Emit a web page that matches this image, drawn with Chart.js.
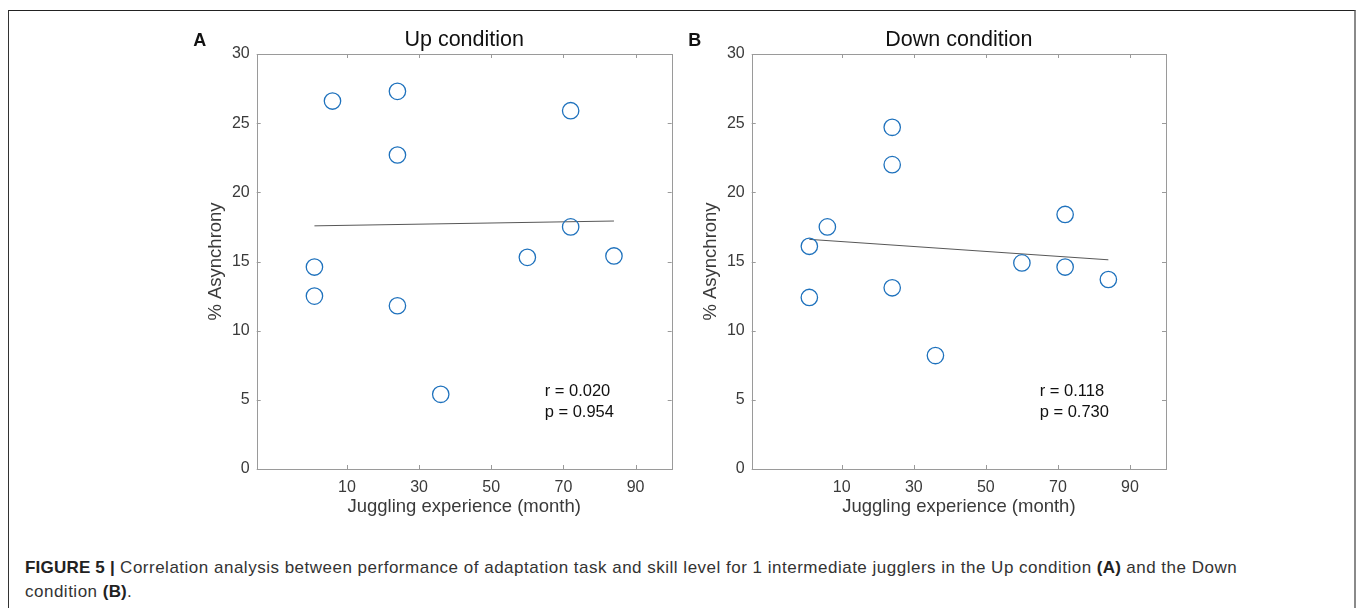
<!DOCTYPE html>
<html>
<head>
<meta charset="utf-8">
<script src="https://cdn.jsdelivr.net/npm/chart.js@4.4.1/dist/chart.umd.min.js"></script>
<style>
  html, body { margin: 0; padding: 0; background: #fff; }
  body { width: 1358px; height: 608px; position: relative; overflow: hidden; font-family: "Liberation Sans", Arial, sans-serif; }
  #frame { position: absolute; left: 8px; top: 10px; width: 1345px; height: 620px;
           border-top: 1px solid #222; border-left: 1px solid #333; border-right: 2px solid #8a8a8a; }
  .panel { position: absolute; top: 0; width: 580px; height: 530px; }
  #panelA { left: 120px; }
  #panelB { left: 670px; }
  #caption { position: absolute; left: 25px; top: 556px; font-size: 17px; letter-spacing: 0.5px; line-height: 23.5px; color: #333; white-space: nowrap; }
  #caption b { color: #222; letter-spacing: 0.2px; }
</style>
</head>
<body>
<div id="frame"></div>
<div class="panel" id="panelA"><canvas id="chartA"></canvas></div>
<div class="panel" id="panelB"><canvas id="chartB"></canvas></div>
<div id="caption"><b>FIGURE 5 |</b> Correlation analysis between performance of adaptation task and skill level for 1 intermediate jugglers in the Up condition <b>(A)</b> and the Down<br>condition <b>(B)</b>.</div>

<script>
'use strict';

// juggling experience in months (same subjects in both panels)
const experienceMonths = [1, 1, 6, 24, 24, 24, 36, 60, 72, 72, 84];
// % asynchrony, Up condition
const upAsynchrony = [14.6, 12.5, 26.6, 27.3, 22.7, 11.8, 5.4, 15.3, 25.9, 17.5, 15.4];
// % asynchrony, Down condition
const downAsynchrony = [16.1, 12.4, 17.5, 24.7, 22.0, 13.1, 8.2, 14.9, 18.4, 14.6, 13.7];

const xTicks = [10, 30, 50, 70, 90];
const yTicks = [0, 5, 10, 15, 20, 25, 30];

const upStats = ['r = 0.020', 'p = 0.954'];
const downStats = ['r = 0.118', 'p = 0.730'];

const AXIS_GRAY = '#9a9a9a';
const TEXT = '#3a3a3a';
const FONT = '"Liberation Sans", Arial, sans-serif';

function leastSquares(xs, ys) {
    const n = xs.length;
    const mx = xs.reduce((a, b) => a + b, 0) / n;
    const my = ys.reduce((a, b) => a + b, 0) / n;
    let sxy = 0, sxx = 0;
    for (let i = 0; i < n; i++) {
        sxy += (xs[i] - mx) * (ys[i] - my);
        sxx += (xs[i] - mx) * (xs[i] - mx);
    }
    const slope = sxy / sxx;
    return x => my + slope * (x - mx);
}

// box, inward ticks and the text around each panel
const decorPlugin = {
    id: 'decor',
    afterDraw(chart, args, opts) {
        const ctx = chart.ctx;
        const {left, right, top, bottom} = chart.chartArea;
        const xs = chart.scales.x, ys = chart.scales.y;
        ctx.save();
        ctx.strokeStyle = AXIS_GRAY;
        ctx.lineWidth = 1;
        ctx.strokeRect(Math.round(left) + 0.5, Math.round(top) + 0.5,
            Math.round(right - left), Math.round(bottom - top));
        ctx.beginPath();
        const t = 4;
        xTicks.forEach(v => {
            const px = Math.round(xs.getPixelForValue(v)) + 0.5;
            ctx.moveTo(px, bottom); ctx.lineTo(px, bottom - t);
            ctx.moveTo(px, top); ctx.lineTo(px, top + t);
        });
        yTicks.forEach(v => {
            const py = Math.round(ys.getPixelForValue(v)) + 0.5;
            ctx.moveTo(left, py); ctx.lineTo(left + t, py);
            ctx.moveTo(right, py); ctx.lineTo(right - t, py);
        });
        ctx.stroke();

        ctx.fillStyle = '#111';
        ctx.textBaseline = 'middle';
        ctx.textAlign = 'center';
        ctx.font = 'bold 18px ' + FONT;
        ctx.fillText(opts.letter, left - 57, 41);
        ctx.font = '21.5px ' + FONT;
        ctx.fillText(opts.title, (left + right) / 2, 40);

        ctx.fillStyle = TEXT;
        ctx.font = '18.5px ' + FONT;
        ctx.fillText('Juggling experience (month)', (left + right) / 2, bottom + 38);
        ctx.save();
        ctx.translate(left - 41, (top + bottom) / 2);
        ctx.rotate(-Math.PI / 2);
        ctx.fillText('% Asynchrony', 0, 0);
        ctx.restore();

        ctx.fillStyle = '#111';
        ctx.textAlign = 'left';
        ctx.font = '16.5px ' + FONT;
        ctx.fillText(opts.stats[0], left + 288, 391);
        ctx.fillText(opts.stats[1], left + 288, 412);
        ctx.restore();
    }
};

function makePanel(canvasId, ys, letter, title, stats, axisLeft, padRight) {
    const fit = leastSquares(experienceMonths, ys);
    const xMin = Math.min(...experienceMonths), xMax = Math.max(...experienceMonths);
    const points = experienceMonths.map((x, i) => ({x: x, y: ys[i]}));
    return new Chart(document.getElementById(canvasId), {
        type: 'scatter',
        data: {
            datasets: [{
                data: points,
                pointStyle: 'circle',
                pointRadius: 8.2,
                pointHoverRadius: 8.2,
                borderColor: '#1f72bd',
                backgroundColor: 'rgba(0,0,0,0)',
                borderWidth: 1.3
            }, {
                type: 'line',
                data: [{x: xMin, y: fit(xMin)}, {x: xMax, y: fit(xMax)}],
                borderColor: '#444',
                borderWidth: 0.9,
                pointRadius: 0,
                fill: false
            }]
        },
        options: {
            responsive: true,
            maintainAspectRatio: false,
            animation: false,
            events: [],
            layout: {padding: {top: 54, right: padRight, left: 0, bottom: 0}},
            plugins: {
                legend: {display: false},
                tooltip: {enabled: false},
                decor: {letter: letter, title: title, stats: stats}
            },
            scales: {
                x: {
                    type: 'linear', min: -15, max: 100,
                    afterBuildTicks: s => { s.ticks = xTicks.map(v => ({value: v})); },
                    afterFit: s => { s.height = 61; },
                    grid: {display: false, drawTicks: false},
                    border: {display: false},
                    ticks: {padding: 9, color: TEXT, font: {size: 16, family: FONT}, maxRotation: 0}
                },
                y: {
                    type: 'linear', min: 0, max: 30,
                    afterBuildTicks: s => { s.ticks = yTicks.map(v => ({value: v})); },
                    afterFit: s => { s.width = axisLeft; },
                    grid: {display: false, drawTicks: false},
                    border: {display: false},
                    ticks: {padding: 7, color: TEXT, font: {size: 16, family: FONT}}
                }
            }
        },
        plugins: [decorPlugin]
    });
}

makePanel('chartA', upAsynchrony, 'A', 'Up condition', upStats, 136.7, 28.3);
makePanel('chartB', downAsynchrony, 'B', 'Down condition', downStats, 81.7, 84);
</script>
</body>
</html>
